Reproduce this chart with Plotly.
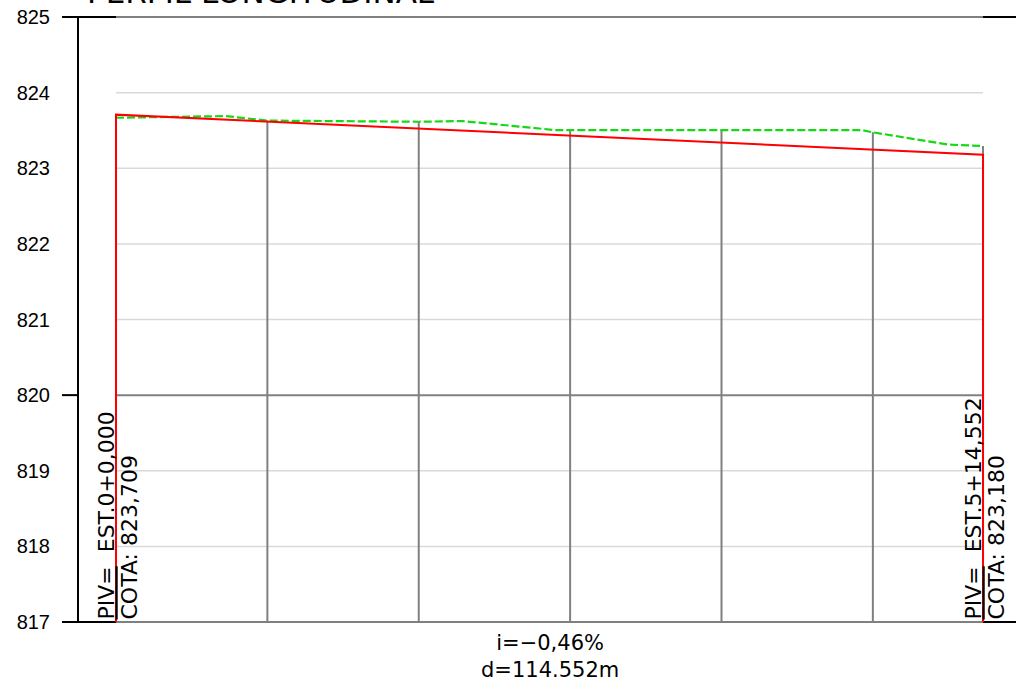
import plotly.graph_objects as go

# ---------------- data ----------------
titulo = "PERFIL LONGITUDINAL"
y_ticks = [817, 818, 819, 820, 821, 822, 823, 824, 825]
grid_minor = [818, 819, 821, 822, 823, 824]
grid_major = [820]

# stations of the vertical grid lines (m) and terrain elevation at each
estaciones_grilla = [0, 20, 40, 60, 80, 100, 114.552]
cota_terreno_grilla = [823.668, 823.630, 823.615, 823.505, 823.505, 823.475, 823.294]

# terrain profile (green dashed)
terreno_est = [0, 14.5, 20, 40, 45.8, 58, 60, 80, 98.5, 100, 110, 114.552]
terreno_cota = [823.668, 823.690, 823.630, 823.615, 823.624, 823.505, 823.505,
                823.505, 823.505, 823.475, 823.313, 823.294]

# grade line (red) PIVs
piv_est = [0.0, 114.552]
piv_cota = [823.709, 823.180]
piv_labels = ["<u>PIV=</u>  EST.0+0,000", "<u>PIV=</u>  EST.5+14,552"]
cota_labels = ["COTA: 823,709", "COTA: 823,180"]

y_min, y_max = 817, 825
x_range = [-5.02, 118.91]

FONT = "DejaVu Sans"
GRAY = "#808080"
LIGHT = "#d9d9d9"

fig = go.Figure()

# vertical gray station lines (terrain -> bottom)
vx, vy = [], []
for s, c in zip(estaciones_grilla, cota_terreno_grilla):
    vx += [s, s, None]
    vy += [c, y_min, None]
fig.add_trace(go.Scatter(x=vx, y=vy, mode="lines",
                         line=dict(color=GRAY, width=2), hoverinfo="skip",
                         showlegend=False))

# terrain
fig.add_trace(go.Scatter(x=terreno_est, y=terreno_cota, mode="lines",
                         line=dict(color="#16d916", width=2.2, dash="8px,3px"),
                         showlegend=False))

# grade line with vertical ends
fig.add_trace(go.Scatter(x=[piv_est[0]] + piv_est + [piv_est[-1]],
                         y=[y_min] + piv_cota + [y_min], mode="lines",
                         line=dict(color="#ff0000", width=2), showlegend=False))

shapes = []
x0, x1 = piv_est[0], piv_est[-1]
for g in grid_minor:
    shapes.append(dict(type="line", xref="x", yref="y", x0=x0, x1=x1, y0=g, y1=g,
                       line=dict(color=LIGHT, width=1.5), layer="below"))
for g in grid_major:
    shapes.append(dict(type="line", xref="x", yref="y", x0=x0, x1=x1, y0=g, y1=g,
                       line=dict(color=GRAY, width=2), layer="below"))

tick_out = -16 / 938
# black full-width top/bottom lines, then gray over data range
for yp in [0, 1]:
    shapes.append(dict(type="line", xref="paper", yref="paper", x0=tick_out, x1=1,
                       y0=yp, y1=yp, line=dict(color="black", width=2), layer="below"))
    shapes.append(dict(type="line", xref="x", yref="paper", x0=x0, x1=x1,
                       y0=yp, y1=yp, line=dict(color=GRAY, width=2), layer="below"))
# tick at 820
yp820 = (grid_major[0] - y_min) / (y_max - y_min)
shapes.append(dict(type="line", xref="paper", yref="paper", x0=tick_out, x1=0,
                   y0=yp820, y1=yp820, line=dict(color="black", width=2)))
# y axis line
shapes.append(dict(type="line", xref="paper", yref="paper", x0=0, x1=0, y0=0, y1=1,
                   line=dict(color="black", width=2)))

annotations = []
for s, t1, t2 in zip(piv_est, piv_labels, cota_labels):
    annotations.append(dict(x=s, y=y_min, xref="x", yref="y", text=t1,
                            textangle=-90, xanchor="right", yanchor="bottom",
                            showarrow=False, xshift=4, yshift=0,
                            font=dict(family=FONT, size=22, color="black")))
    annotations.append(dict(x=s, y=y_min, xref="x", yref="y", text=t2,
                            textangle=-90, xanchor="left", yanchor="bottom",
                            showarrow=False, xshift=-2, yshift=0,
                            font=dict(family=FONT, size=22, color="black")))

pendiente = (piv_cota[1] - piv_cota[0]) / (piv_est[1] - piv_est[0]) * 100
dist = piv_est[1] - piv_est[0]
txt = ("i=\u2212%.2f%%" % abs(pendiente)).replace(".", ",") + "<br>d=%.3fm" % dist
annotations.append(dict(x=(piv_est[0] + piv_est[1]) / 2, y=-0.0562, xref="x",
                        yref="paper", text=txt, showarrow=False, xanchor="center",
                        yanchor="middle",
                        font=dict(family=FONT, size=21, color="black")))

annotations.append(dict(x=7 / 938, y=1.0078, xref="paper", yref="paper",
                        text=titulo, showarrow=False, xanchor="left",
                        yanchor="bottom",
                        font=dict(family=FONT, size=31, color="black")))

fig.update_layout(
    width=1016, height=681,
    margin=dict(l=78, r=0, t=17, b=59),
    paper_bgcolor="white", plot_bgcolor="white",
    xaxis=dict(range=x_range, visible=False, showgrid=False, zeroline=False),
    yaxis=dict(range=[y_min, y_max], tickvals=y_ticks, showgrid=False,
               zeroline=False, showline=False, ticks="", ticklabelstandoff=27,
               tickfont=dict(family="Liberation Sans", size=20, color="black")),
    shapes=shapes, annotations=annotations, showlegend=False,
)

fig.write_html("out.html", config={"displayModeBar": False},
               post_script="document.body.style.margin='0';"
                           "document.body.style.overflow='hidden';")
